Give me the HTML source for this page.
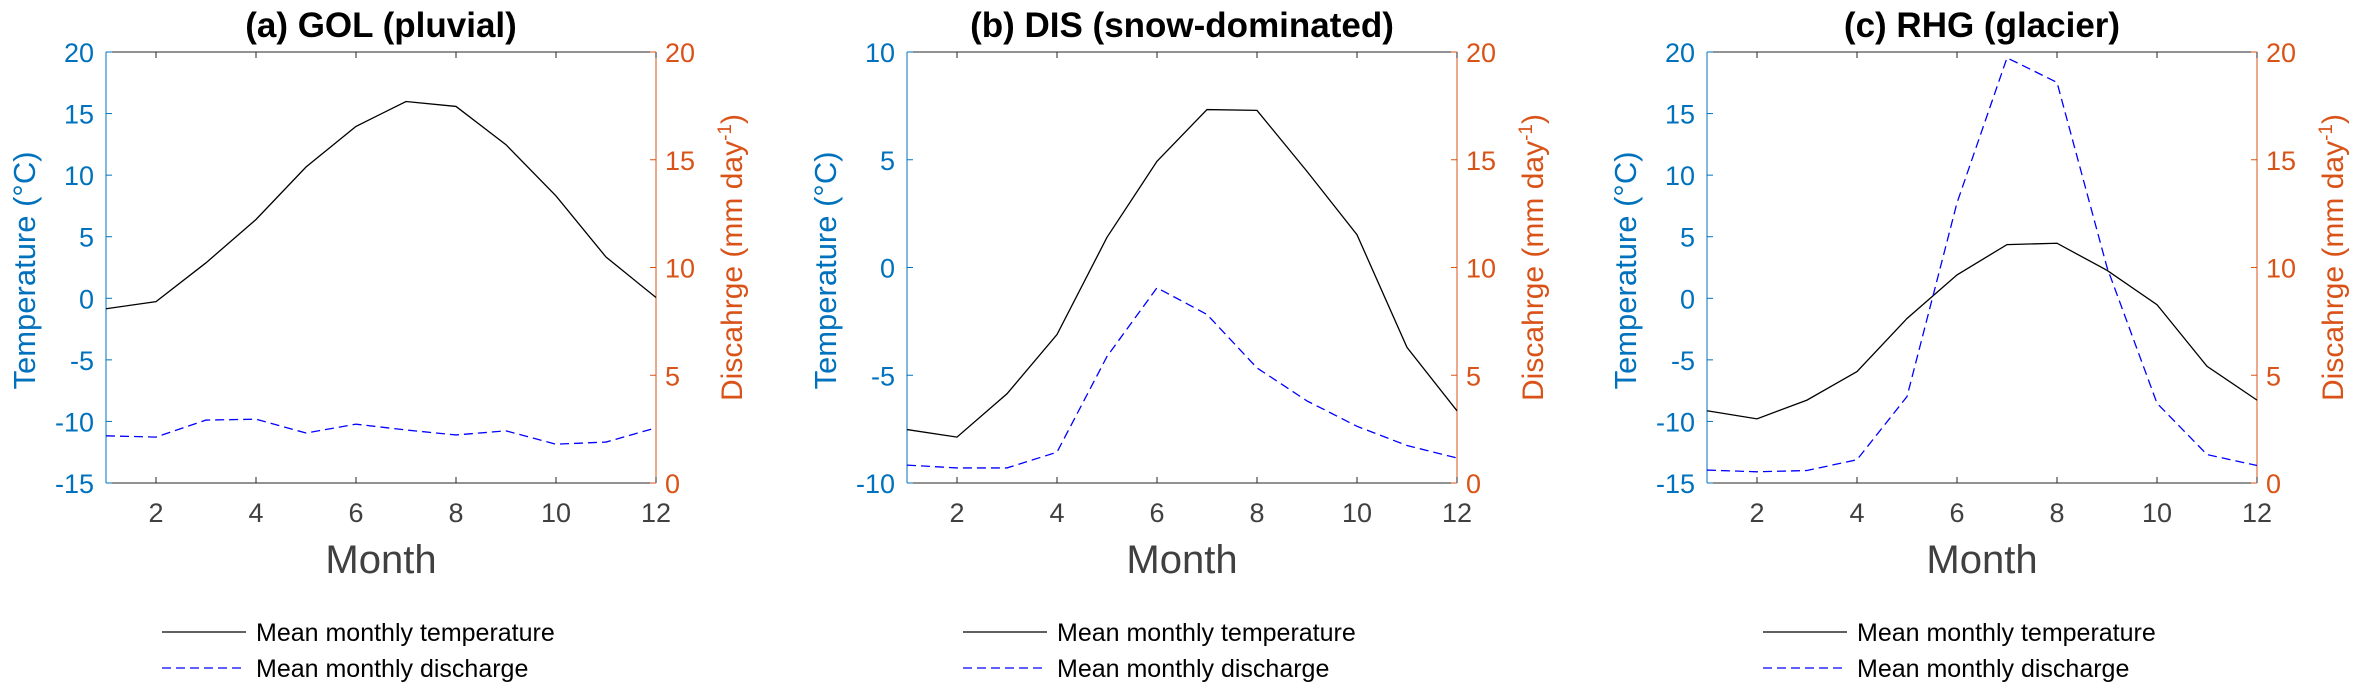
<!DOCTYPE html>
<html><head><meta charset="utf-8">
<style>
html,body{margin:0;padding:0;background:#fff;}
svg{display:block;font-family:"Liberation Sans",Arial,sans-serif;}
</style></head>
<body>
<svg id="chart" width="2361" height="700" viewBox="0 0 2361 700" xmlns="http://www.w3.org/2000/svg"></svg>
<script>
const months = [1,2,3,4,5,6,7,8,9,10,11,12];
const titles = ["(a) GOL (pluvial)", "(b) DIS (snow-dominated)", "(c) RHG (glacier)"];
const tempA = [-0.85,-0.27,2.88,6.4,10.66,13.96,15.98,15.58,12.47,8.31,3.35,0.06];
const dischA = [2.19,2.13,2.92,2.96,2.32,2.73,2.46,2.23,2.42,1.8,1.9,2.56];
const tempB = [-7.52,-7.87,-5.86,-3.11,1.4,4.93,7.33,7.29,4.46,1.52,-3.71,-6.65];
const dischB = [0.83,0.7,0.7,1.43,5.87,9.06,7.82,5.34,3.81,2.63,1.74,1.16];
const tempC = [-9.13,-9.79,-8.27,-5.95,-1.64,1.9,4.36,4.47,2.27,-0.52,-5.52,-8.27];
const dischC = [0.6,0.52,0.58,1.08,4.01,13.0,19.73,18.59,10.01,3.7,1.32,0.81];
const tempTicksA = [-15,-10,-5,0,5,10,15,20];
const tempTicksB = [-10,-5,0,5,10];
const tempTicksC = [-15,-10,-5,0,5,10,15,20];
const dischTicks = [0,5,10,15,20];
const xTicks = [2,4,6,8,10,12];

const panels = [
  {title:titles[0], temp:tempA, disch:dischA, tt:tempTicksA, left:106},
  {title:titles[1], temp:tempB, disch:dischB, tt:tempTicksB, left:907},
  {title:titles[2], temp:tempC, disch:dischC, tt:tempTicksC, left:1707}
];
const svg = document.getElementById('chart');
const NS = "http://www.w3.org/2000/svg";
function mk(tag, attrs, parent, text){
  const e = document.createElementNS(NS, tag);
  for (const k in attrs) e.setAttribute(k, attrs[k]);
  if (text !== undefined) e.textContent = text;
  parent.appendChild(e);
  return e;
}
const W = 550, TOP = 52, BOT = 483;
const BLUE = "#0072BD", ORANGE = "#D95319", GRAY = "#404040";

panels.forEach((p, i) => {
  const g = mk('g', {}, svg);
  
  
  const L = p.left, R = L + W;
  const tmin = p.tt[0], tmax = p.tt[p.tt.length-1];
  const x = m => L + (m - 1) / 11 * W;
  const yT = v => BOT - (v - tmin) / (tmax - tmin) * (BOT - TOP);
  const yD = v => BOT - v / 20 * (BOT - TOP);

  const t = mk('text', {x: L + W/2, y: 37, 'text-anchor':'middle', 'font-size':35, 'font-weight':'bold', fill:'#000'}, g, p.title);
  
  

  const top = mk('line', {x1:L, y1:TOP, x2:R, y2:TOP, stroke:'#262626', 'stroke-width':1}, g);
  
  
  const bot = mk('line', {x1:L, y1:BOT, x2:R, y2:BOT, stroke:'#262626', 'stroke-width':1}, g);
  
  
  const la = mk('line', {x1:L, y1:TOP, x2:L, y2:BOT, stroke:BLUE, 'stroke-width':1}, g);
  
  
  const ra = mk('line', {x1:R, y1:TOP, x2:R, y2:BOT, stroke:ORANGE, 'stroke-width':1}, g);
  
  

  xTicks.forEach(m => {
    mk('line', {x1:x(m), y1:BOT, x2:x(m), y2:BOT-6, stroke:'#262626'}, g);
    mk('line', {x1:x(m), y1:TOP, x2:x(m), y2:TOP+6, stroke:'#262626'}, g);
    const tl = mk('text', {x:x(m), y:522, 'text-anchor':'middle', 'font-size':27, fill:GRAY}, g, m);
    
    
  });
  p.tt.forEach(v => {
    mk('line', {x1:L, y1:yT(v), x2:L+6, y2:yT(v), stroke:BLUE}, g);
    const tl = mk('text', {x:L-12, y:yT(v)+10, 'text-anchor':'end', 'font-size':27, fill:BLUE}, g, v);
    
    
  });
  dischTicks.forEach(v => {
    mk('line', {x1:R, y1:yD(v), x2:R-6, y2:yD(v), stroke:ORANGE}, g);
    const tl = mk('text', {x:R+9, y:yD(v)+10, 'text-anchor':'start', 'font-size':27, fill:ORANGE}, g, v);
    
    
  });

  const yl = mk('text', {x:0, y:0, transform:`translate(${L-71},${(TOP+BOT)/2+3}) rotate(-90)`, 'text-anchor':'middle', 'font-size':31, fill:BLUE}, g, 'Temperature (°C)');
  
  
  const yr = mk('text', {x:0, y:0, transform:`translate(${R+86},${(TOP+BOT)/2-10}) rotate(-90)`, 'text-anchor':'middle', 'font-size':30, fill:ORANGE}, g);
  
  
  yr.appendChild(document.createTextNode('Discahrge (mm day'));
  mk('tspan', {dy:-11, 'font-size':19}, yr, '-1');
  mk('tspan', {dy:11}, yr, ')');

  const xl = mk('text', {x:L+W/2, y:573, 'text-anchor':'middle', 'font-size':40, fill:GRAY}, g, 'Month');
  
  

  const tl = mk('polyline', {points: months.map((m,k)=>x(m)+','+yT(p.temp[k])).join(' '), fill:'none', stroke:'#000', 'stroke-width':1.3}, g);
  
  
  const dl = mk('polyline', {points: months.map((m,k)=>x(m)+','+yD(p.disch[k])).join(' '), fill:'none', stroke:'#0000FF', 'stroke-width':1.3, 'stroke-dasharray':'9,5'}, g);
  
  

  const lg = mk('g', {}, g);
  
  
  const e1 = mk('line', {x1:L+56, y1:632, x2:L+140, y2:632, stroke:'#000', 'stroke-width':1.3}, lg);
  
  
  mk('text', {x:L+150, y:641, 'font-size':25, fill:'#000'}, lg, 'Mean monthly temperature');
  const e2 = mk('line', {x1:L+56, y1:668, x2:L+140, y2:668, stroke:'#0000FF', 'stroke-width':1.3, 'stroke-dasharray':'9,5'}, lg);
  
  
  mk('text', {x:L+150, y:677, 'font-size':25, fill:'#000'}, lg, 'Mean monthly discharge');
});
</script>
</body></html>
